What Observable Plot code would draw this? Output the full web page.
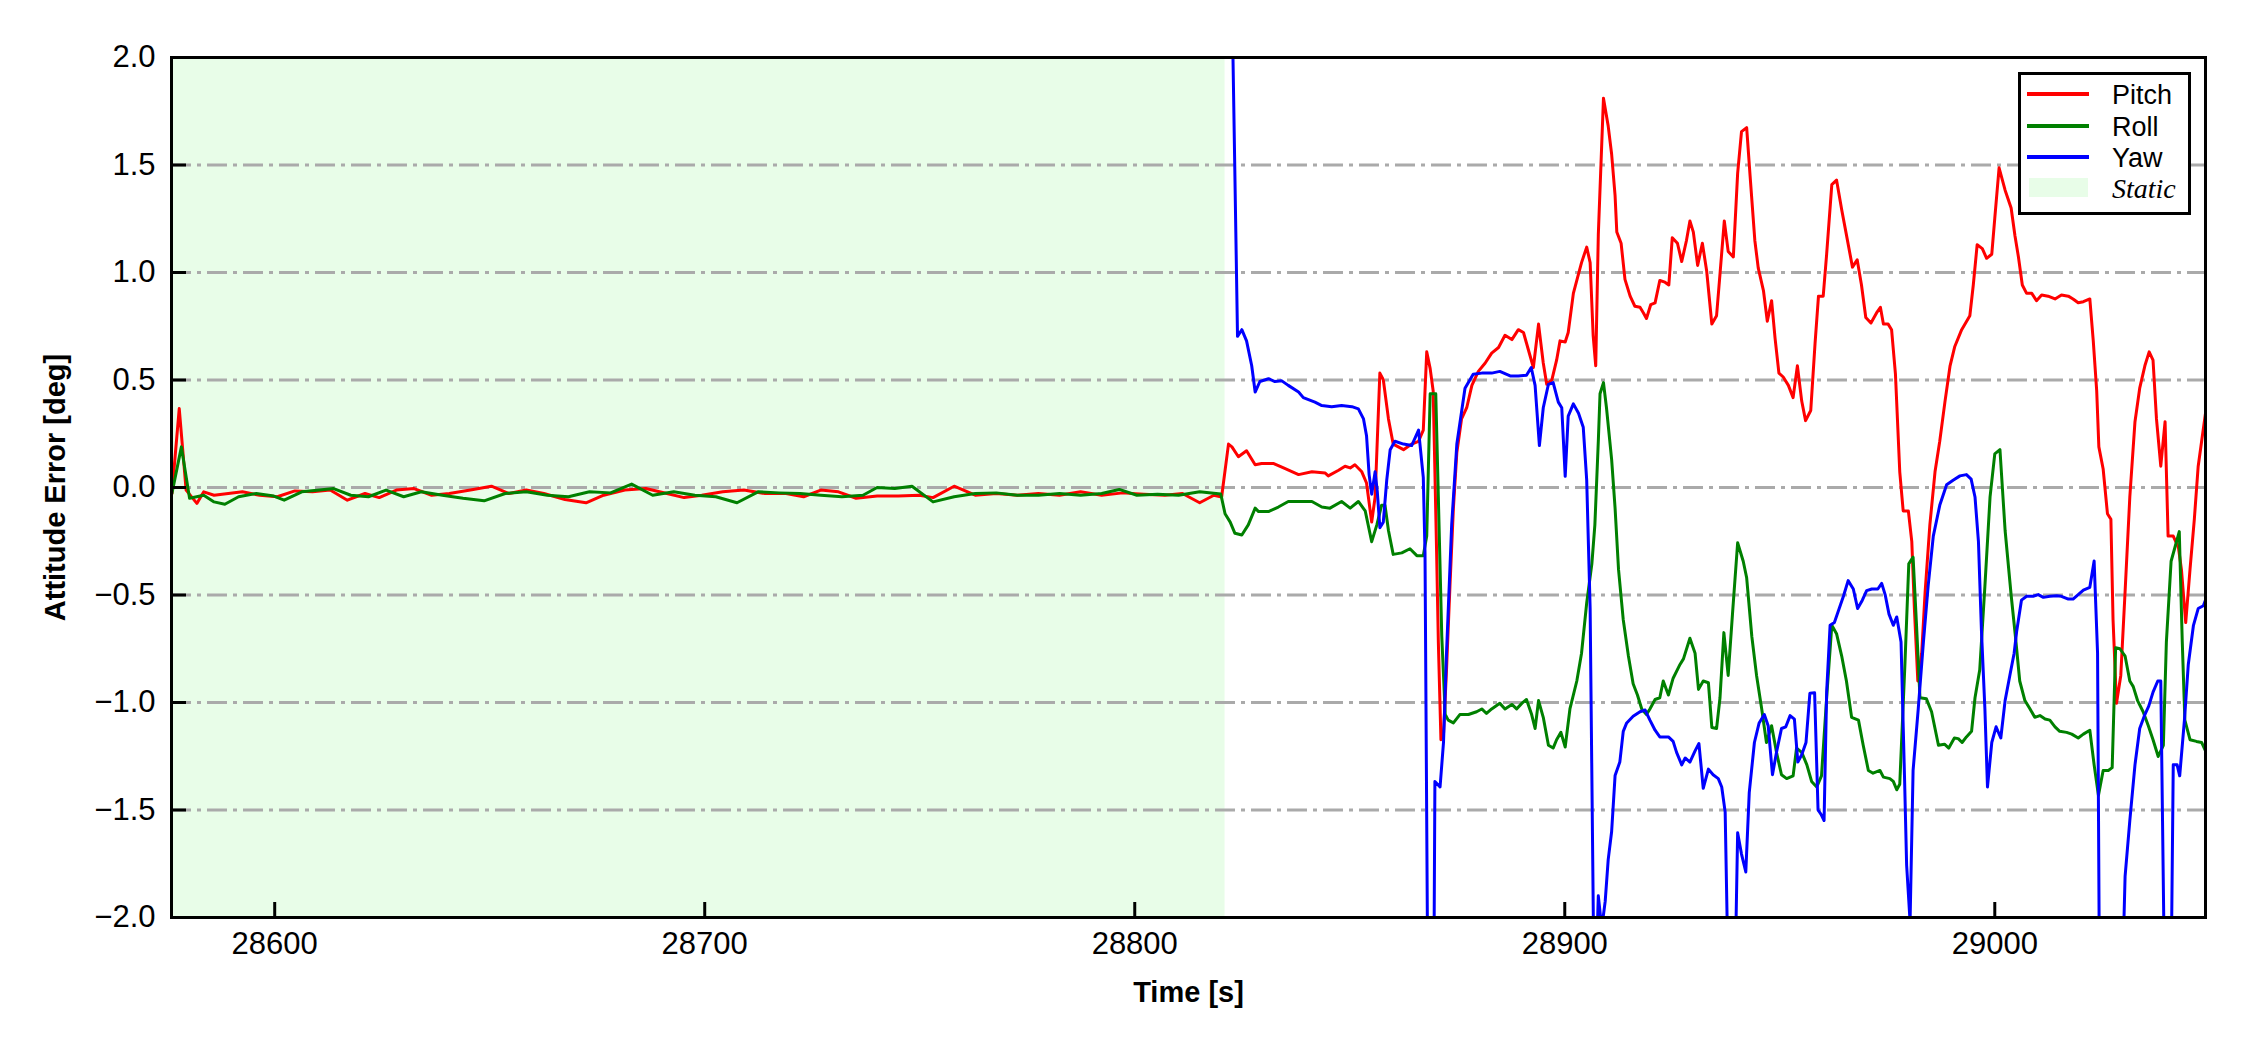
<!DOCTYPE html>
<html>
<head>
<meta charset="utf-8">
<script src="https://cdn.jsdelivr.net/npm/d3@7"></script>
<script src="https://cdn.jsdelivr.net/npm/@observablehq/plot@0.6"></script>
<style>
  html, body { margin: 0; padding: 0; background: #fff; }
  #wrap { position: relative; width: 2250px; height: 1050px; }
  #legend { position: absolute; left: 2018px; top: 72px; }
</style>
</head>
<body>
<div id="wrap"></div>
<script>
// ---- data ----
const xTicks = [28600, 28700, 28800, 28900, 29000];
const yTicks = [-2, -1.5, -1, -0.5, 0, 0.5, 1, 1.5, 2];
const xDomain = [28576, 29049];
const yDomain = [-2, 2];
const staticPeriod = [28576, 28821];
const seriesNames = ["Pitch", "Roll", "Yaw"];
const seriesColors = ["#ff0000", "#008000", "#0000ff"];

const pitch = [
[28576.1,-0.028],[28577.8,0.367],[28579.4,-0.012],[28581.9,-0.074],[28583.5,-0.020],[28585.9,-0.036],[28589.2,-0.028],[28592.5,-0.020],[28596.5,-0.036],[28600.6,-0.043],[28604.7,-0.016],[28608.8,-0.020],[28612.9,-0.012],[28616.9,-0.059],[28621.0,-0.028],[28624.3,-0.047],[28628.3,-0.012],[28632.4,-0.005],[28636.5,-0.036],[28640.6,-0.028],[28645.5,-0.012],[28650.4,0.006],[28654.5,-0.028],[28658.5,-0.012],[28662.6,-0.028],[28667.5,-0.056],[28672.4,-0.071],[28676.5,-0.036],[28681.4,-0.012],[28686.3,-0.005],[28691.2,-0.028],[28695.2,-0.047],[28699.3,-0.036],[28704.2,-0.020],[28709.1,-0.012],[28714.0,-0.028],[28718.9,-0.028],[28723.0,-0.043],[28727.0,-0.012],[28731.1,-0.020],[28735.2,-0.050],[28740.1,-0.040],[28745.0,-0.040],[28749.9,-0.036],[28753.1,-0.047],[28758.0,0.006],[28762.9,-0.036],[28767.8,-0.028],[28772.7,-0.036],[28777.6,-0.028],[28782.5,-0.036],[28787.4,-0.020],[28792.3,-0.036],[28797.2,-0.025],[28802.1,-0.031],[28807.0,-0.036],[28811.1,-0.028],[28815.1,-0.071],[28818.4,-0.036],[28820.2,-0.044],
[28821.8,0.202],[28822.6,0.189],[28824.1,0.143],[28826.0,0.171],[28828.0,0.106],[28829.5,0.112],[28832.2,0.112],[28834.6,0.091],[28838.1,0.060],[28841.2,0.073],[28844.3,0.067],[28845.0,0.054],[28847.4,0.080],[28848.9,0.099],[28850.1,0.091],[28851.2,0.106],[28852.8,0.073],[28853.9,0.021],[28855.1,-0.161],[28855.9,-0.044],[28857.0,0.532],[28857.8,0.501],[28859.0,0.319],[28860.1,0.202],[28862.5,0.176],[28864.4,0.202],[28866.0,0.215],[28867.1,0.267],[28867.9,0.631],[28868.7,0.553],[28869.4,0.449],[28870.2,-0.304],[28870.6,-0.719],[28871.2,-1.173],[28871.8,-1.147],[28872.5,-0.848],[28873.3,-0.459],[28874.1,-0.096],[28874.9,0.163],[28876.0,0.319],[28877.2,0.371],[28878.4,0.475],[28879.9,0.540],[28881.5,0.579],[28883.0,0.625],[28884.6,0.651],[28886.1,0.708],[28887.7,0.688],[28889.2,0.734],[28890.4,0.721],[28891.5,0.643],[28892.7,0.558],[28893.9,0.760],[28895.0,0.579],[28895.8,0.480],[28897.0,0.501],[28898.1,0.592],[28898.9,0.682],[28900.1,0.677],[28900.8,0.721],[28902.0,0.903],[28903.2,0.994],[28903.9,1.046],[28905.1,1.118],[28905.9,1.046],[28906.6,0.708],[28907.2,0.566],[28907.8,1.175],[28909.0,1.811],[28910.1,1.681],[28910.9,1.55],[28911.7,1.357],[28912.1,1.188],[28913.1,1.136],[28914.0,0.968],[28915.2,0.890],[28916.3,0.843],[28917.5,0.838],[28918.3,0.812],[28919.0,0.786],[28920.0,0.851],[28921.0,0.859],[28922.1,0.963],[28923.3,0.955],[28924.2,0.942],[28925.0,1.162],[28926.2,1.136],[28927.2,1.051],[28928.3,1.149],[28929.1,1.240],[28929.9,1.188],[28930.9,1.033],[28932.0,1.136],[28933.0,1.007],[28934.2,0.760],[28935.3,0.799],[28936.1,0.994],[28937.1,1.240],[28938.0,1.098],[28939.2,1.072],[28940.2,1.461],[28941.1,1.655],[28942.3,1.674],[28943.1,1.448],[28944.2,1.149],[28945.0,1.020],[28946.2,0.916],[28947.1,0.773],[28948.1,0.869],[28948.9,0.695],[28949.8,0.532],[28950.8,0.514],[28952.0,0.475],[28953.1,0.418],[28954.1,0.566],[28955.1,0.402],[28956.0,0.311],[28957.2,0.358],[28958.2,0.669],[28959.0,0.890],[28960.1,0.890],[28960.9,1.085],[28962.1,1.409],[28963.2,1.430],[28964.4,1.292],[28965.5,1.175],[28966.9,1.025],[28968.0,1.059],[28969.0,0.942],[28970.0,0.791],[28971.2,0.765],[28972.5,0.812],[28973.4,0.838],[28974.1,0.760],[28975.2,0.760],[28976.0,0.734],[28976.9,0.527],[28977.9,0.073],[28978.7,-0.109],[28979.9,-0.109],[28980.7,-0.252],[28981.3,-0.563],[28982.1,-0.900],[28983.0,-0.771],[28983.8,-0.485],[28984.9,-0.174],[28986.1,0.073],[28987.2,0.215],[28988.4,0.397],[28989.6,0.566],[28990.7,0.656],[28992.3,0.734],[28994.2,0.799],[28995.0,0.942],[28995.9,1.129],[28997.1,1.111],[28998.1,1.066],[28999.3,1.085],[29000.0,1.253],[29001.0,1.487],[29002.4,1.383],[29003.8,1.30],[29004.7,1.17],[29005.5,1.072],[29006.4,0.942],[29007.4,0.903],[29008.6,0.903],[29009.7,0.869],[29010.9,0.895],[29012.4,0.890],[29014.0,0.877],[29015.5,0.895],[29017.1,0.890],[29018.2,0.877],[29019.4,0.859],[29020.6,0.864],[29022.1,0.877],[29022.9,0.682],[29023.7,0.449],[29024.2,0.189],[29025.2,0.086],[29026.2,-0.122],[29027.0,-0.148],[29027.5,-0.615],[29028.3,-1.004],[29029.3,-0.874],[29030.3,-0.485],[29031.4,-0.044],[29032.6,0.306],[29033.7,0.462],[29034.9,0.566],[29035.9,0.631],[29036.8,0.592],[29037.6,0.319],[29038.6,0.099],[29039.6,0.306],[29040.3,-0.226],[29041.5,-0.226],[29042.7,-0.278],[29043.4,-0.381],[29044.4,-0.628],[29045.4,-0.381],[29046.4,-0.148],[29047.3,0.099],[29048.1,0.215],[29049.0,0.345]
];

const roll = [
[28576.1,-0.028],[28578.3,0.189],[28580.2,-0.050],[28583.5,-0.036],[28585.9,-0.067],[28588.4,-0.078],[28591.6,-0.043],[28595.7,-0.028],[28599.8,-0.040],[28602.2,-0.059],[28606.3,-0.020],[28610.4,-0.012],[28613.7,-0.005],[28617.7,-0.036],[28621.8,-0.043],[28625.9,-0.012],[28630.0,-0.043],[28634.1,-0.020],[28639.0,-0.036],[28643.8,-0.050],[28648.7,-0.062],[28653.6,-0.028],[28658.5,-0.020],[28663.4,-0.036],[28668.3,-0.043],[28673.2,-0.020],[28678.1,-0.025],[28683.0,0.016],[28687.9,-0.036],[28692.8,-0.020],[28697.7,-0.036],[28702.6,-0.043],[28707.5,-0.071],[28712.4,-0.020],[28717.3,-0.025],[28722.2,-0.028],[28727.0,-0.036],[28731.9,-0.043],[28736.8,-0.036],[28740.1,0.000],[28744.2,-0.005],[28748.2,0.006],[28753.1,-0.067],[28758.0,-0.043],[28762.9,-0.028],[28767.8,-0.025],[28772.7,-0.036],[28777.6,-0.036],[28782.5,-0.028],[28787.4,-0.036],[28792.3,-0.028],[28796.4,-0.009],[28800.5,-0.036],[28805.3,-0.031],[28810.2,-0.036],[28815.1,-0.020],[28820.0,-0.030],
[28821.0,-0.122],[28822.2,-0.161],[28823.3,-0.213],[28824.9,-0.221],[28826.4,-0.174],[28828.0,-0.096],[28828.8,-0.112],[28831.1,-0.112],[28833.4,-0.091],[28835.7,-0.065],[28838.1,-0.065],[28841.2,-0.065],[28843.5,-0.091],[28845.4,-0.096],[28848.1,-0.065],[28850.1,-0.096],[28852.0,-0.065],[28853.6,-0.109],[28855.1,-0.252],[28856.3,-0.174],[28857.4,-0.083],[28858.2,-0.083],[28859.0,-0.200],[28860.1,-0.311],[28862.1,-0.304],[28864.0,-0.285],[28865.6,-0.317],[28867.1,-0.317],[28867.9,-0.226],[28868.7,0.436],[28870.0,0.436],[28870.6,-0.044],[28871.4,-0.693],[28872.2,-1.056],[28872.9,-1.082],[28874.1,-1.095],[28875.6,-1.056],[28877.6,-1.056],[28879.5,-1.043],[28880.7,-1.030],[28881.8,-1.051],[28883.0,-1.030],[28884.9,-1.004],[28886.1,-1.030],[28887.7,-1.009],[28888.8,-1.030],[28890.0,-1.004],[28891.1,-0.986],[28892.3,-1.056],[28893.1,-1.121],[28893.9,-0.991],[28895.0,-1.069],[28896.2,-1.199],[28897.3,-1.212],[28898.1,-1.173],[28899.1,-1.139],[28900.1,-1.207],[28901.2,-1.030],[28902.8,-0.900],[28903.9,-0.771],[28905.1,-0.537],[28906.3,-0.355],[28907.0,-0.174],[28907.8,0.215],[28908.2,0.436],[28909.0,0.488],[28909.7,0.371],[28910.9,0.130],[28911.7,-0.096],[28912.5,-0.381],[28913.6,-0.615],[28914.8,-0.784],[28915.9,-0.913],[28916.9,-0.965],[28917.9,-1.030],[28919.0,-1.056],[28919.8,-1.030],[28921.0,-0.986],[28922.1,-0.978],[28922.9,-0.900],[28924.1,-0.965],[28925.2,-0.887],[28926.8,-0.823],[28927.6,-0.797],[28929.1,-0.701],[28930.3,-0.771],[28931.1,-0.939],[28932.2,-0.900],[28933.4,-0.908],[28934.2,-1.116],[28935.3,-1.121],[28936.1,-0.978],[28937.0,-0.675],[28938.0,-0.874],[28939.0,-0.589],[28940.2,-0.257],[28941.5,-0.343],[28942.3,-0.420],[28943.5,-0.693],[28944.6,-0.874],[28945.8,-1.030],[28946.9,-1.186],[28948.1,-1.108],[28949.3,-1.238],[28950.4,-1.336],[28951.6,-1.354],[28953.1,-1.341],[28953.9,-1.212],[28955.1,-1.232],[28956.3,-1.290],[28957.4,-1.367],[28958.6,-1.393],[28959.7,-1.341],[28960.9,-0.978],[28962.1,-0.641],[28963.2,-0.680],[28964.4,-0.784],[28965.5,-0.900],[28966.7,-1.069],[28968.3,-1.082],[28969.4,-1.199],[28970.6,-1.316],[28971.7,-1.329],[28973.3,-1.316],[28974.1,-1.347],[28975.6,-1.354],[28976.4,-1.367],[28977.2,-1.406],[28977.9,-1.380],[28979.1,-0.823],[28980.0,-0.355],[28981.0,-0.324],[28981.8,-0.641],[28982.6,-0.978],[28984.1,-0.983],[28985.3,-1.043],[28986.9,-1.199],[28988.3,-1.194],[28989.3,-1.212],[28990.6,-1.165],[28991.5,-1.168],[28992.4,-1.186],[28993.4,-1.160],[28994.6,-1.134],[28995.4,-0.978],[28996.5,-0.848],[28997.7,-0.459],[28998.9,-0.044],[29000.0,0.156],[29001.2,0.176],[29002.4,-0.200],[29003.8,-0.500],[29004.8,-0.693],[29005.8,-0.900],[29007.0,-0.991],[29008.2,-1.030],[29009.3,-1.069],[29010.5,-1.061],[29011.7,-1.077],[29012.8,-1.082],[29014.0,-1.113],[29015.1,-1.134],[29016.7,-1.139],[29017.9,-1.147],[29019.4,-1.165],[29020.6,-1.147],[29022.1,-1.129],[29023.1,-1.290],[29024.1,-1.432],[29025.2,-1.316],[29026.4,-1.316],[29027.3,-1.303],[29028.1,-0.745],[29029.1,-0.750],[29030.3,-0.784],[29031.4,-0.900],[29032.2,-0.926],[29033.2,-0.991],[29034.5,-1.043],[29035.7,-1.108],[29036.8,-1.173],[29038.0,-1.251],[29039.2,-1.199],[29039.9,-0.719],[29041.0,-0.343],[29041.9,-0.278],[29042.9,-0.205],[29043.6,-0.719],[29044.2,-1.082],[29045.4,-1.173],[29046.9,-1.181],[29048.1,-1.186],[29049.0,-1.225]
];

const yaw = [
[28822.6,2.3],[28823.9,0.703],[28824.9,0.734],[28826.0,0.682],[28827.2,0.566],[28828.0,0.444],[28829.1,0.493],[28831.1,0.506],[28832.6,0.493],[28834.2,0.496],[28835.7,0.475],[28838.1,0.444],[28839.2,0.418],[28841.9,0.397],[28843.5,0.381],[28845.8,0.376],[28848.1,0.381],[28850.5,0.376],[28852.0,0.366],[28853.2,0.319],[28853.9,0.241],[28854.5,0.060],[28855.1,-0.031],[28855.9,0.073],[28856.4,-0.018],[28857.0,-0.187],[28857.8,-0.161],[28858.6,0.034],[28859.4,0.176],[28860.5,0.215],[28862.5,0.202],[28864.4,0.195],[28866.0,0.267],[28867.1,0.047],[28867.5,-0.304],[28868.2,-2.5],[28869.5,-2.5],[28869.8,-1.367],[28871.0,-1.393],[28871.8,-1.186],[28872.5,-0.771],[28873.7,-0.174],[28874.9,0.202],[28876.8,0.462],[28878.7,0.527],[28880.7,0.532],[28883.0,0.532],[28884.9,0.540],[28887.3,0.519],[28889.2,0.519],[28891.1,0.522],[28892.2,0.558],[28893.1,0.475],[28894.1,0.195],[28895.0,0.371],[28896.2,0.480],[28897.3,0.488],[28898.5,0.397],[28899.3,0.371],[28900.1,0.052],[28900.8,0.332],[28902.0,0.389],[28903.2,0.345],[28904.3,0.280],[28905.1,0.034],[28905.9,-0.563],[28906.9,-2.5],[28907.8,-1.899],[28908.6,-2.05],[28909.4,-1.925],[28910.1,-1.731],[28910.9,-1.60],[28911.7,-1.34],[28912.8,-1.277],[28913.6,-1.134],[28914.4,-1.095],[28915.9,-1.064],[28917.5,-1.043],[28918.7,-1.035],[28919.8,-1.082],[28921.0,-1.129],[28922.1,-1.160],[28924.1,-1.160],[28925.2,-1.181],[28926.0,-1.232],[28927.2,-1.290],[28928.0,-1.258],[28929.1,-1.277],[28930.3,-1.225],[28931.2,-1.191],[28932.2,-1.399],[28933.4,-1.310],[28934.5,-1.336],[28935.7,-1.354],[28936.5,-1.393],[28937.3,-1.510],[28938.2,-2.5],[28939.4,-2.5],[28940.2,-1.606],[28941.1,-1.705],[28942.1,-1.788],[28942.9,-1.419],[28944.1,-1.186],[28945.2,-1.095],[28946.4,-1.056],[28947.3,-1.108],[28948.3,-1.336],[28949.3,-1.225],[28950.4,-1.121],[28951.4,-1.113],[28952.4,-1.061],[28953.4,-1.077],[28954.2,-1.277],[28955.1,-1.243],[28956.1,-1.186],[28957.0,-0.957],[28958.1,-0.955],[28958.9,-1.50],[28959.6,-1.52],[28960.3,-1.549],[28960.9,-0.952],[28961.7,-0.641],[28962.7,-0.628],[28963.6,-0.576],[28964.8,-0.506],[28965.9,-0.433],[28967.1,-0.472],[28968.1,-0.563],[28969.2,-0.524],[28970.2,-0.480],[28971.4,-0.472],[28972.8,-0.472],[28973.7,-0.446],[28974.5,-0.498],[28975.4,-0.589],[28976.4,-0.641],[28977.2,-0.602],[28978.2,-0.719],[28979.0,-1.341],[28979.5,-1.757],[28980.3,-2.02],[28981.0,-1.316],[28982.2,-1.030],[28983.4,-0.719],[28984.5,-0.459],[28985.7,-0.226],[28987.2,-0.083],[28988.8,0.013],[28990.3,0.034],[28991.9,0.054],[28993.4,0.060],[28994.5,0.039],[28995.4,-0.044],[28996.2,-0.252],[28996.9,-0.667],[28997.7,-1.030],[28998.3,-1.393],[28999.3,-1.186],[29000.3,-1.113],[29001.4,-1.165],[29002.4,-0.991],[29003.5,-0.874],[29004.5,-0.771],[29005.1,-0.667],[29006.2,-0.524],[29007.4,-0.506],[29008.9,-0.506],[29010.1,-0.498],[29011.3,-0.511],[29012.8,-0.506],[29014.4,-0.503],[29015.5,-0.506],[29017.1,-0.519],[29018.2,-0.519],[29019.4,-0.498],[29020.6,-0.477],[29022.1,-0.464],[29023.1,-0.342],[29023.9,-0.771],[29024.4,-2.5],[29029.4,-2.5],[29030.3,-1.809],[29031.4,-1.549],[29032.6,-1.290],[29033.7,-1.121],[29034.9,-1.056],[29035.8,-1.017],[29036.8,-0.952],[29037.9,-0.900],[29038.6,-0.900],[29039.6,-2.5],[29040.9,-2.5],[29041.5,-1.290],[29042.4,-1.290],[29043.0,-1.341],[29044.1,-1.082],[29045.0,-0.823],[29046.2,-0.641],[29047.3,-0.563],[29048.5,-0.550],[29049.0,-0.524]
];

// ---- build chart ----
const W = 2250, H = 1050;
const mL = 171, mR = 45, mT = 57, mB = 133;
const plotW = W - mL - mR, plotH = H - mT - mB;

const rows = [];
[pitch, roll, yaw].forEach((arr, i) => {
  arr.forEach(([t, v]) => rows.push({t, v, s: seriesNames[i]}));
});
const gridVals = yTicks.filter(d => d > yDomain[0] && d < yDomain[1]);
const fmtY = d3.format(".1f");

const chart = Plot.plot({
  width: W, height: H,
  marginLeft: mL, marginRight: mR, marginTop: mT, marginBottom: mB,
  style: {fontFamily: "'Liberation Sans', Arial, sans-serif", fontSize: "31px", background: "#fff", color: "#000"},
  x: {domain: xDomain},
  y: {domain: yDomain},
  color: {domain: seriesNames, range: seriesColors},
  marks: [
    Plot.rect([staticPeriod], {x1: d => d[0], x2: d => d[1], fill: "#e8fde8"}),
    Plot.ruleY(gridVals, {stroke: "#aaaaaa", strokeWidth: 3, strokeDasharray: "20,6,4,6"}),
    Plot.line(rows, {x: "t", y: "v", z: "s", stroke: "s", strokeWidth: 3, clip: true, curve: "linear"}),
    Plot.tickY(yTicks, {y: d => d, stroke: "#000", strokeWidth: 3, insetRight: plotW - 15}),
    Plot.tickX(xTicks, {x: d => d, stroke: "#000", strokeWidth: 3, insetTop: plotH - 15}),
    Plot.axisY({ticks: yTicks, tickSize: 0, tickPadding: 16, tickFormat: fmtY, label: null, fontSize: 31}),
    Plot.axisX({ticks: xTicks, tickSize: 0, tickPadding: 14, tickFormat: d => String(d), label: null, fontSize: 31}),
    Plot.text(["Attitude Error [deg]"], {frameAnchor: "left", dx: -116, rotate: -90, textAnchor: "middle", lineAnchor: "middle", fontWeight: "bold", fontSize: 29, text: d => d}),
    Plot.text(["Time [s]"], {frameAnchor: "bottom", dy: 75, textAnchor: "middle", lineAnchor: "middle", fontWeight: "bold", fontSize: 29, text: d => d}),
    Plot.frame({stroke: "#000", strokeWidth: 3})
  ]
});
document.getElementById("wrap").appendChild(chart);

// ---- legend (inside the axes, upper right) ----
const lw = 173, lh = 143;
const leg = d3.select("#wrap").append("svg")
  .attr("id", "legend").attr("width", lw).attr("height", lh);
leg.append("rect").attr("x", 1.5).attr("y", 1.5).attr("width", lw - 3).attr("height", lh - 3)
  .attr("fill", "#fff").attr("stroke", "#000").attr("stroke-width", 3);
const rowY = [22, 54, 85, 115.5];
seriesNames.forEach((name, i) => {
  leg.append("line").attr("x1", 9).attr("x2", 71).attr("y1", rowY[i]).attr("y2", rowY[i])
    .attr("stroke", seriesColors[i]).attr("stroke-width", 4);
  leg.append("text").attr("x", 94).attr("y", rowY[i] + 10)
    .attr("font-family", "'Liberation Sans', Arial, sans-serif").attr("font-size", 27).text(name);
});
leg.append("rect").attr("x", 11).attr("y", 106).attr("width", 59).attr("height", 19).attr("fill", "#e8fde8");
leg.append("text").attr("x", 94).attr("y", rowY[3] + 10)
  .attr("font-family", "'Liberation Serif', 'Times New Roman', serif").attr("font-style", "italic")
  .attr("font-size", 28).text("Static");
</script>
</body>
</html>
